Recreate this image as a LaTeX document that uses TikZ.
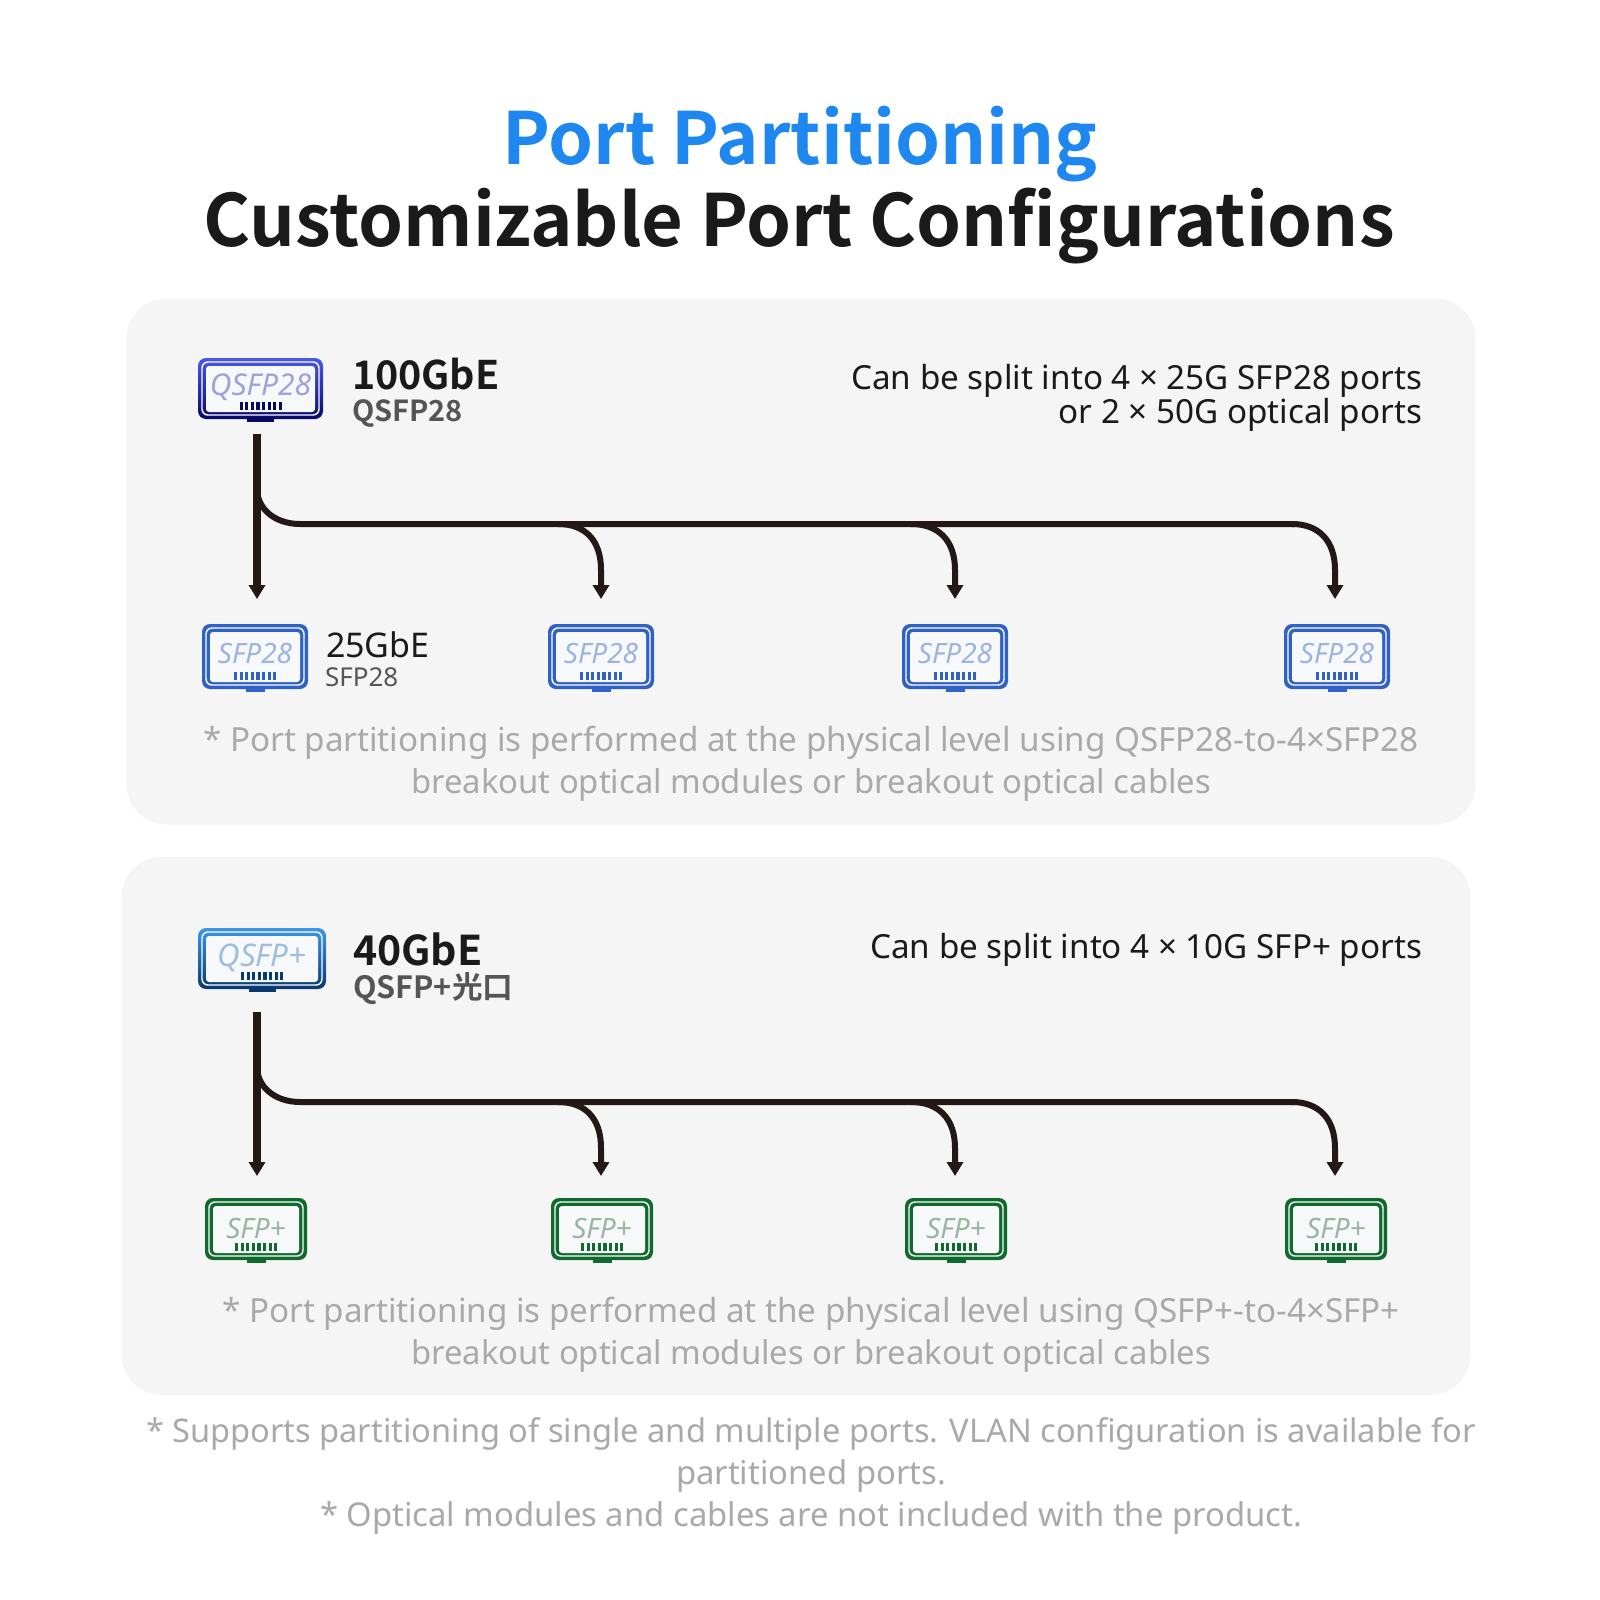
\documentclass[tikz,border=0pt]{standalone}
\usepackage{fontspec}
\setmainfont{Noto Sans}
\newfontfamily\cjkfont{Noto Sans CJK SC}[BoldFont={* Bold}]
\usetikzlibrary{arrows.meta,calc}
\definecolor{cardbg}{HTML}{F5F5F5}
\definecolor{portbg}{HTML}{F7F8F9}
\definecolor{titleblue}{HTML}{1E87F0}
\definecolor{ink}{HTML}{1A1A1A}
\definecolor{subgray}{HTML}{555555}
\definecolor{notegray}{HTML}{A9A9A9}
\definecolor{wire}{HTML}{231815}
\definecolor{qatop}{HTML}{4858E8}
\definecolor{qabot}{HTML}{080868}
\definecolor{qatxt}{HTML}{9EA2DA}
\definecolor{satop}{HTML}{2F62C4}
\definecolor{satxt}{HTML}{9DB3E0}
\definecolor{qbtop}{HTML}{3A98E8}
\definecolor{qbbot}{HTML}{083A70}
\definecolor{qbtxt}{HTML}{9FBEDD}
\definecolor{sbtop}{HTML}{0F6A2E}
\definecolor{sbtxt}{HTML}{9AB5A2}
\tikzset{
  x=0.5pt,y=-0.5pt,
  cardbox/.style={fill=cardbg,draw=none,rounded corners=20pt},
  txt/.style={inner sep=0pt,outer sep=0pt,anchor=base,align=center},
  branch/.style={draw=wire,line width=3pt},
  tipline/.style={-{Triangle[length=7pt,width=8pt,inset=0pt]}},
  notetext/.style={txt,text=notegray,font=\fontsize{16.6pt}{20.5pt}\selectfont},
  notetextb/.style={txt,text=notegray,font=\fontsize{16.4pt}{20.5pt}\selectfont},
  righttext/.style={txt,anchor=base east,align=right,text=ink,font=\fontsize{16.6pt}{17pt}\selectfont},
}
\newcommand{\portlabel}{}
\newcommand{\porttab}{13.5}
\newcommand{\portdy}{-1}
% name, cx, cy, w, h, top colour, bottom colour, label colour, font size(pt)
\newcommand{\portbox}[9]{%
  \path[rounded corners=4pt,top color=#6,bottom color=#7,draw=none]
    ({#2-#4/2},{#3-#5/2}) rectangle ({#2+#4/2},{#3+#5/2});
  \path[fill=#7]
    ({#2-\porttab},{#3+#5/2-2}) rectangle ({#2+\porttab},{#3+#5/2+3});
  \path[draw=white,line width=0.7pt,rounded corners=3pt]
    ({#2-#4/2+4},{#3-#5/2+4}) rectangle ({#2+#4/2-4},{#3+#5/2-4});
  \path[fill=portbg,rounded corners=1.5pt,draw=none]
    ({#2-#4/2+8},{#3-#5/2+8}) rectangle ({#2+#4/2-8},{#3+#5/2-7});
  \foreach \i in {0,...,7}{
    \path[fill=#7] ({#2-21+\i*5.6},{#3+#5/2-17.5}) rectangle ({#2-17.8+\i*5.6},{#3+#5/2-9.5});
  }
  \node[name=#1,minimum width=#4*0.5pt,minimum height=#5*0.5pt,inner sep=0pt,outer sep=0pt] at (#2,#3) {};
  \node[name=#1t,inner sep=0pt,text=#8,font=\itshape\fontsize{#9pt}{#9pt}\selectfont] at (#2,{#3+\portdy}) {\portlabel};
}
\begin{document}
\begin{tikzpicture}
\useasboundingbox (0,0) rectangle (1600,1600);
\fill[white] (0,0) rectangle (1600,1600);
\node[name=title1,txt,text=titleblue,font=\cjkfont\bfseries\fontsize{36pt}{40pt}\selectfont] at (800,164) {Port Partitioning};
\node[name=title2,txt,text=ink,font=\cjkfont\bfseries\fontsize{36pt}{40pt}\selectfont] at (799,246) {Customizable Port Configurations};

\path[cardbox,name=card1] (126.5,298.5) rectangle (1475.5,824.5);
\path[cardbox,name=card2] (121.5,857) rectangle (1470.5,1395);

% ports, card 1
\renewcommand{\portlabel}{QSFP28}
\portbox{q1}{260.5}{388.5}{125}{61}{qatop}{qabot}{qatxt}{15}
\renewcommand{\portlabel}{SFP28}
\renewcommand{\porttab}{9.5}
\renewcommand{\portdy}{-3}
\portbox{a1}{255}{656.5}{106}{65}{satop}{satop}{satxt}{14}
\portbox{a2}{601}{656.5}{106}{65}{satop}{satop}{satxt}{14}
\portbox{a3}{955}{656.5}{106}{65}{satop}{satop}{satxt}{14}
\portbox{a4}{1337}{656.5}{106}{65}{satop}{satop}{satxt}{14}

% ports, card 2
\renewcommand{\portlabel}{QSFP+}
\renewcommand{\porttab}{13.5}
\renewcommand{\portdy}{-1}
\portbox{q2}{262}{958.5}{128}{61}{qbtop}{qbbot}{qbtxt}{15.6}
\renewcommand{\portlabel}{SFP+}
\renewcommand{\porttab}{9.5}
\portbox{b1}{256}{1229}{102}{62}{sbtop}{sbtop}{sbtxt}{14}
\portbox{b2}{602}{1229}{102}{62}{sbtop}{sbtop}{sbtxt}{14}
\portbox{b3}{956}{1229}{102}{62}{sbtop}{sbtop}{sbtxt}{14}
\portbox{b4}{1336}{1229}{102}{62}{sbtop}{sbtop}{sbtxt}{14}

% connectors card 1
\draw[draw=wire,line width=4pt,tipline] ([xshift=-1.75pt,yshift=-7.5pt]q1.south) -- ([xshift=1pt,yshift=12.5pt]a1.north);
\draw[branch] (257,490) .. controls (258,510) and (276,524) .. (300,524) -- (1295,524);
\draw[branch,tipline] (558,524) .. controls (585,524) and (601,540) .. (601,570) -- ([yshift=12.5pt]a2.north);
\draw[branch,tipline] (911,524) .. controls (938,524) and (955,540) .. (955,570) -- ([yshift=12.5pt]a3.north);
\draw[branch,tipline] (1292,524) .. controls (1318,524) and (1335,540) .. (1335,570) -- ([xshift=-1pt,yshift=12.5pt]a4.north);

% connectors card 2
\draw[draw=wire,line width=4pt,tipline] ([xshift=-2.5pt,yshift=-11.5pt]q2.south) -- ([xshift=.5pt,yshift=11pt]b1.north);
\draw[branch] (257,1068) .. controls (258,1088) and (276,1102) .. (300,1102) -- (1295,1102);
\draw[branch,tipline] (558,1102) .. controls (585,1102) and (601,1118) .. (601,1148) -- ([xshift=-.5pt,yshift=11pt]b2.north);
\draw[branch,tipline] (911,1102) .. controls (938,1102) and (955,1118) .. (955,1148) -- ([xshift=-.5pt,yshift=11pt]b3.north);
\draw[branch,tipline] (1292,1102) .. controls (1318,1102) and (1335,1118) .. (1335,1148) -- ([xshift=-.5pt,yshift=11pt]b4.north);

% text card 1
\node[name=h1,txt,anchor=base west,text=ink,font=\cjkfont\bfseries\fontsize{19.7pt}{20pt}\selectfont] at (352,389) {100GbE};
\node[name=h1s,txt,anchor=base west,text=subgray,font=\cjkfont\bfseries\fontsize{14.5pt}{16pt}\selectfont] at (352,421) {QSFP28};
\node[name=r1,righttext] at (1422,389) {Can be split into 4 × 25G SFP28 ports};
\node[name=r1b,righttext] at (1422,423) {or 2 × 50G optical ports};
\node[name=h2,txt,anchor=base west,text=ink,font=\fontsize{17pt}{18pt}\selectfont] at (326,657) {25GbE};
\node[name=h2s,txt,anchor=base west,text=subgray,font=\fontsize{13pt}{14pt}\selectfont] at (325,686) {SFP28};
\node[name=n1,notetext] at (811,751) {* Port partitioning is performed at the physical level using QSFP28-to-4×SFP28};
\node[name=n1b,notetextb] at (811,793) {breakout optical modules or breakout optical cables};

% text card 2
\node[name=h3,txt,anchor=base west,text=ink,font=\cjkfont\bfseries\fontsize{20.5pt}{20pt}\selectfont] at (353,965) {40GbE};
\node[name=h3s,txt,anchor=base west,text=subgray,font=\cjkfont\bfseries\fontsize{15.3pt}{16pt}\selectfont] at (353,998) {QSFP+光口};
\node[name=r2,righttext] at (1422,958) {Can be split into 4 × 10G SFP+ ports};
\node[name=n2,notetext] at (811,1322) {* Port partitioning is performed at the physical level using QSFP+-to-4×SFP+};
\node[name=n2b,notetextb] at (811,1364) {breakout optical modules or breakout optical cables};

% footer
\node[name=f1,notetextb,font=\fontsize{16.3pt}{20.5pt}\selectfont] at (811,1442) {* Supports partitioning of single and multiple ports. VLAN configuration is available for};
\node[name=f2,notetextb] at (811,1484) {partitioned ports.};
\node[name=f3,notetextb] at (811,1526) {* Optical modules and cables are not included with the product.};
\end{tikzpicture}
\end{document}
